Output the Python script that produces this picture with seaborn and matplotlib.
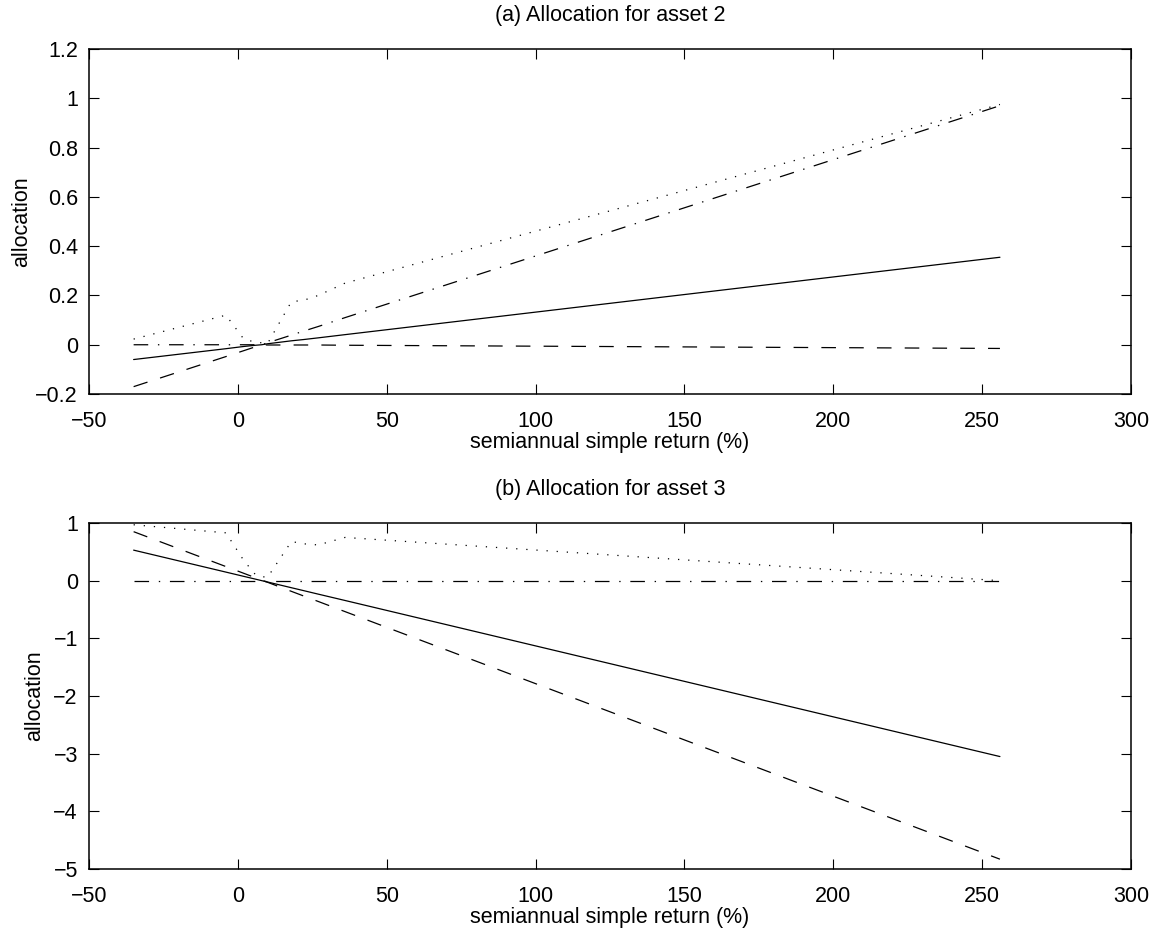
import matplotlib
matplotlib.use("Agg")
import matplotlib.pyplot as plt
import numpy as np
import pandas as pd
import seaborn as sns

# semiannual simple return (%) at which allocations are evaluated
returns = [-35, -4, 2, 6, 8, 10, 18, 22, 27, 36, 256]

# (a) asset 2
a2_solid = [-0.060, -0.016, -0.007, -0.002, 0.000, 0.004, 0.016, 0.021, 0.028, 0.041, 0.355]
a2_dashed = [-0.170, -0.048, -0.024, -0.008, 0.000, -0.001, -0.001, -0.001, -0.001, -0.002, -0.015]
a2_dashdot = [0.000, 0.000, 0.000, 0.000, 0.000, 0.008, 0.039, 0.055, 0.074, 0.110, 0.970]
a2_dotted = [0.023, 0.120, 0.023, 0.010, 0.008, 0.005, 0.175, 0.180, 0.200, 0.250, 0.975]

# (b) asset 3
a3_solid = [0.530, 0.149, 0.075, 0.026, 0.001, -0.023, -0.122, -0.171, -0.233, -0.343, -3.050]
a3_dashed = [0.850, 0.245, 0.128, 0.050, 0.011, -0.028, -0.185, -0.263, -0.360, -0.536, -4.830]
a3_dashdot = [0.000, 0.000, 0.000, 0.000, 0.000, 0.000, 0.000, 0.000, 0.000, 0.000, 0.000]
a3_dotted = [0.970, 0.830, 0.350, 0.100, 0.070, 0.060, 0.680, 0.640, 0.620, 0.750, 0.000]

styles = {
    "solid": "-",
    "dashed": (0, (10.5, 9.5)),
    "dashdot": (0, (10.5, 7, 1, 7)),
    "dotted": (0, (0.9, 6.4)),
}

sns.set_style("ticks")
plt.rcParams["font.family"] = ["Liberation Sans", "DejaVu Sans"]
plt.rcParams["lines.scale_dashes"] = False
plt.rcParams["axes.unicode_minus"] = True
plt.rcParams["text.color"] = "black"
plt.rcParams["axes.labelcolor"] = "black"

fig = plt.figure(figsize=(11.54, 9.30), dpi=100)
ax_top = fig.add_axes([0.0771, 0.5763, 0.9029, 0.3710])
ax_bot = fig.add_axes([0.0771, 0.0656, 0.9029, 0.3720])


def draw_panel(ax, series, title, ylim, yticks, yfmt, ylabelpad):
    for name, vals in series.items():
        df = pd.DataFrame({"ret": returns, "alloc": vals})
        sns.lineplot(data=df, x="ret", y="alloc", ax=ax, color="black",
                     linewidth=0.9, linestyle=styles[name], sort=False,
                     estimator=None)
    ax.set_xlim(-50, 300)
    ax.set_ylim(*ylim)
    ax.set_xticks(np.arange(-50, 301, 50))
    ax.set_yticks(yticks)
    ax.set_yticklabels([yfmt(v) for v in yticks])
    ax.tick_params(direction="in", length=7, width=0.8, top=True, right=True,
                   labelsize=15.5, colors="black")
    ax.tick_params(axis="x", pad=12)
    ax.tick_params(axis="y", pad=8)
    for sp in ax.spines.values():
        sp.set_visible(True)
        sp.set_linewidth(1.1)
        sp.set_color("black")
    ax.set_title(title, fontsize=15.5, pad=20, color="black")
    ax.set_xlabel("semiannual simple return (%)", fontsize=15.5, labelpad=0.5)
    ax.set_ylabel("allocation", fontsize=15.5, labelpad=ylabelpad)


def fmt_a(v):
    s = f"{v:.1f}"
    if s in ("0.0", "-0.0"):
        return "0"
    if s == "1.0":
        return "1"
    return s.replace("-", "\u2212")


def fmt_b(v):
    return f"{int(v)}".replace("-", "\u2212")


draw_panel(ax_top,
           {"solid": a2_solid, "dashed": a2_dashed,
            "dashdot": a2_dashdot, "dotted": a2_dotted},
           "(a) Allocation for asset 2", (-0.2, 1.2),
           np.round(np.arange(-0.2, 1.21, 0.2), 1), fmt_a, 2)
draw_panel(ax_bot,
           {"solid": a3_solid, "dashed": a3_dashed,
            "dashdot": a3_dashdot, "dotted": a3_dotted},
           "(b) Allocation for asset 3", (-5, 1),
           np.arange(-5, 2, 1), fmt_b, 6)

fig.savefig("out.png", dpi=100)
